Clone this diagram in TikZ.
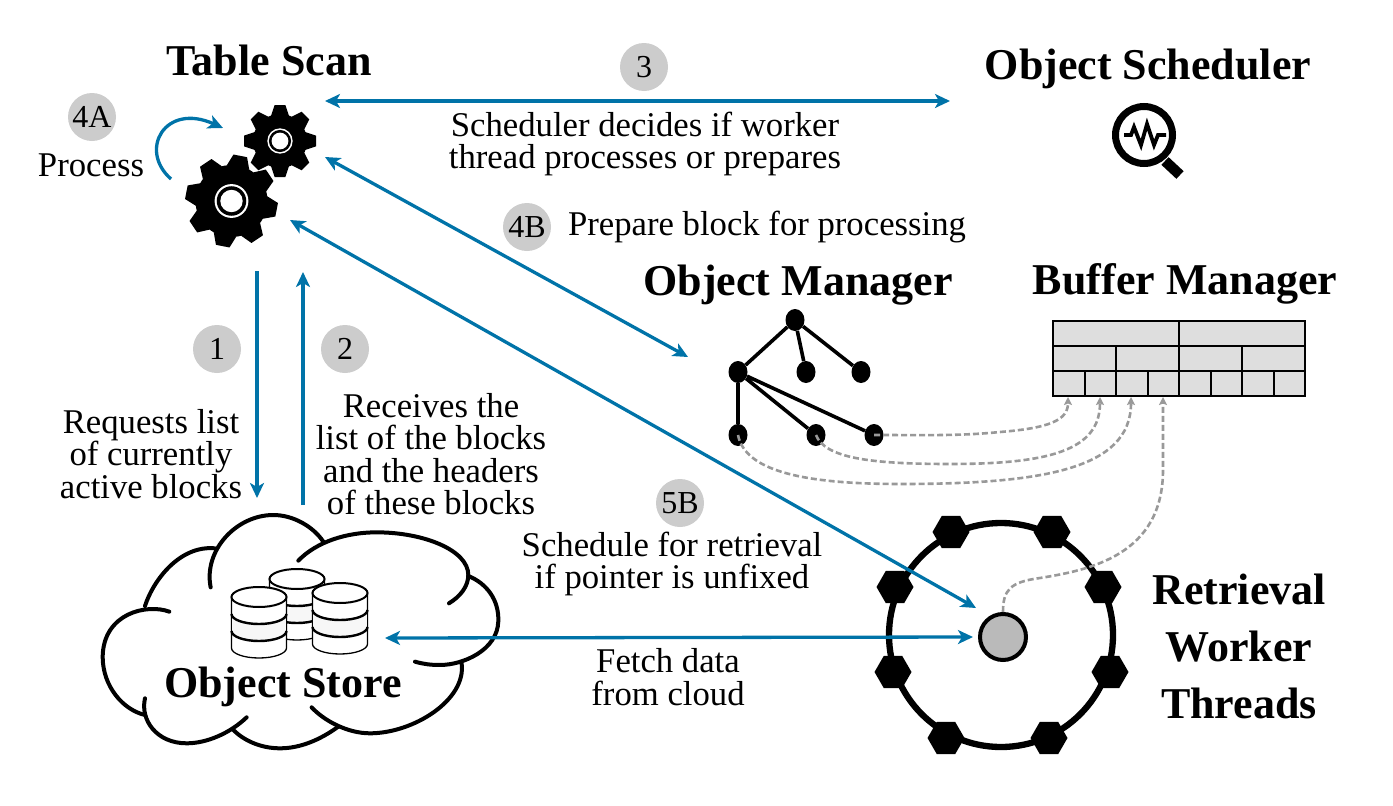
\documentclass[tikz,border=0pt]{standalone}
\usepackage{fontspec}
\setmainfont{Liberation Serif}
\usetikzlibrary{arrows.meta,shapes.geometric}
\definecolor{flowblue}{HTML}{0073A8}
\definecolor{dashgray}{HTML}{999999}
\definecolor{badgegray}{HTML}{CCCCCC}
\newcommand{\gearshape}[6]{%
  \node[coordinate] (#6) at (#1,#2) {};
  \begin{scope}[shift={(#1,#2)}]
    \foreach \a in {0,45,...,315}{
      \fill[black,rotate=#5+\a] (#4-2,-#3*0.25) -- (#3,-#3*0.15) -- (#3,#3*0.15) -- (#4-2,#3*0.25) -- cycle;
    }
    \fill[black] (0,0) circle[radius=#4 pt];
    \fill[white] (0,0) circle[radius=#4*0.47 pt];
    \fill[black] (0,0) circle[radius=#4*0.41 pt];
    \fill[white] (0,0) circle[radius=#4*0.31 pt];
  \end{scope}}
\newcommand{\dbcyl}[3]{%
  \begin{scope}[shift={(#1,#2)}]
    \node[coordinate] (#3) at (0,0) {};
    \filldraw[fill=white,draw=black,line width=1.3pt] (-27.5,0) -- (-27.5,51) arc[start angle=180,end angle=360,x radius=27.5pt,y radius=10pt] -- (27.5,0) -- cycle;
    \fill[fill=black!3] (-27.5,17) arc[start angle=180,end angle=360,x radius=27.5pt,y radius=10pt] -- (27.5,34) arc[start angle=0,end angle=-180,x radius=27.5pt,y radius=10pt] -- cycle;
    \draw[line width=1.3pt] (-27.5,0) -- (-27.5,51) (27.5,0) -- (27.5,51);
    \draw[line width=2.4pt] (-27.5,17) arc[start angle=180,end angle=360,x radius=27.5pt,y radius=10pt];
    \draw[line width=2.4pt] (-27.5,34) arc[start angle=180,end angle=360,x radius=27.5pt,y radius=10pt];
    \filldraw[fill=white,draw=black,line width=2pt] (0,0) ellipse[x radius=27.5pt,y radius=10pt];
  \end{scope}}
\tikzset{
  x=1pt,y=-1pt,
  flow/.style={draw=flowblue,line width=3.3pt,-{Stealth[length=15pt,width=14pt,inset=4pt]}},
  flowboth/.style={draw=flowblue,line width=3.3pt,{Stealth[length=15pt,width=14pt,inset=4pt]}-{Stealth[length=15pt,width=14pt,inset=4pt]}},
  dashlink/.style={draw=dashgray,line width=2.6pt,dash pattern=on 6pt off 3pt,-{Stealth[length=8pt,width=8pt,inset=1.5pt]}},
  badge/.style={circle,fill=badgegray,minimum size=48pt,inner sep=0pt,font=\fontsize{32}{32}\selectfont},
  body/.style={inner sep=0pt,align=center,font=\fontsize{34.7}{32.5}\selectfont},
  heading/.style={inner sep=0pt,align=center,font=\bfseries\fontsize{44}{57}\selectfont},
  treenode/.style={ellipse,fill=black,minimum width=19pt,minimum height=22pt,inner sep=0pt},
  treeedge/.style={line width=3.6pt,draw=black},
  hexa/.style={regular polygon,regular polygon sides=6,fill=black,minimum size=37pt,inner sep=0pt},
  cloudline/.style={line width=4pt,line cap=round,draw=black},
}
\begin{document}
\begin{tikzpicture}
\useasboundingbox (0,0) rectangle (1393,806);
% gears
\gearshape{231.5}{201}{46}{36}{-11}{biggear}
\gearshape{280}{141}{36}{27}{0}{smallgear}
% headings
\node[heading] (tscan) at (269,60) {Table Scan};
\node[heading] (osched) at (1148,69) {Object Scheduler};
\node[heading] (omgr) at (798,285) {Object Manager};
\node[heading] (bmgr) at (1185,284) {Buffer Manager};
\node[heading] (ostore) at (283,687) {Object Store};
\node[heading] (retr) at (1239,646) {Retrieval\\Worker\\Threads};
% badges
\node[badge] (b3) at (644,67) {3};
\node[badge] (b4a) at (92,117) {4A};
\node[badge] (b4b) at (527,227) {4B};
\node[badge] (b1) at (217,349) {1};
\node[badge] (b2) at (345,349) {2};
\node[badge] (b5b) at (680,503) {5B};
% labels
\node[body] (lproc) at (91,165) {Process};
\node[body] (lsched) at (645,144) {Scheduler decides if worker\\thread processes or prepares};
\node[body] (lprep) at (767,227) {Prepare block for processing};
\node[body] (lreq) at (151,454) {Requests list\\of currently\\active blocks};
\node[body] (lrec) at (431,454) {Receives the\\list of the blocks\\and the headers\\of these blocks};
\node[body] (lret) at (672,564) {Schedule for retrieval\\if pointer is unfixed};
\node[body] (lfetch) at (668,677) {Fetch data\\from cloud};
% magnifier
\node[coordinate] (lens) at (1144,135) {};
\draw[line width=7pt] (lens) circle[radius=28.5pt];
\draw[line width=10.5pt] (1165,161) -- (1180,175);
\draw[line width=3.8pt,line join=miter] (1124,135) -- (1131,135) -- (1134,127) -- (1141,145) -- (1147,124) -- (1154,145) -- (1158,135) -- (1166,135);
% cloud
\begin{scope}[shift={(90,500)},x=0.3333pt,y=-0.3333pt]
\draw[cloudline] (238,335) .. controls (170,310) and (40,340) .. (38,470) .. controls (38,560) and (100,630) .. (165,645);
\draw[cloudline] (165,318) .. controls (190,240) and (270,135) .. (375,145);
\draw[cloudline] (362,262) .. controls (340,150) and (440,45) .. (550,45) .. controls (610,45) and (670,80) .. (700,125);
\draw[cloudline] (625,182) .. controls (680,125) and (770,97) .. (860,97) .. controls (1000,97) and (1135,150) .. (1135,225) .. controls (1135,260) and (1110,290) .. (1077,310);
\draw[cloudline] (1135,228) .. controls (1190,250) and (1228,300) .. (1225,365) .. controls (1222,450) and (1120,495) .. (1050,495) .. controls (1020,495) and (1000,492) .. (975,485);
\draw[cloudline] (1115,490) .. controls (1130,600) and (970,700) .. (840,700) .. controls (770,700) and (700,660) .. (665,622);
\draw[cloudline] (745,680) .. controls (690,720) and (630,745) .. (570,745) .. controls (510,745) and (460,720) .. (430,690);
\draw[cloudline] (470,652) .. controls (420,700) and (350,730) .. (290,730) .. controls (200,730) and (150,660) .. (165,595);
\end{scope}
% databases
\dbcyl{297}{579}{dbback}
\dbcyl{259}{597}{dbleft}
\dbcyl{340}{593}{dbright}
% tree
\node[treenode] (t0) at (795,320) {};
\node[treenode] (t1) at (738,372) {};
\node[treenode] (t2) at (806,372) {};
\node[treenode] (t3) at (861,372) {};
\node[treenode] (t4) at (738,435) {};
\node[treenode] (t5) at (816,435) {};
\node[treenode] (t6) at (874,435) {};
\draw[treeedge] (t0)--(t1) (t0)--(t2) (t0)--(t3) (t1)--(t4) (t1)--(t5) (t1)--(t6);
% buffer grid
\node[coordinate] (g0) at (1053,321) {};
\node[coordinate] (g1) at (1305,396) {};
\fill[black!13] (g0) rectangle (g1);
\begin{scope}[line width=2pt]
\draw (g0) rectangle (g1);
\draw (1053,346) -- (1305,346) (1053,371) -- (1305,371);
\draw (1179,321) -- (1179,396);
\foreach \i in {2,6}{\draw (1053+31.5*\i,346) -- (1053+31.5*\i,371) ;}
\foreach \i in {1,2,3,5,6,7}{\draw (1053+31.5*\i,371) -- (1053+31.5*\i,396);}
\end{scope}
\node[coordinate] (c1) at (1068,397) {};
\node[coordinate] (c2) at (1100,397) {};
\node[coordinate] (c3) at (1131,397) {};
\node[coordinate] (c4) at (1163,397) {};
% ring
\node[circle,draw=black,line width=6.3pt,minimum size=224pt,inner sep=0pt] (ring) at (1001,635) {};
\node[hexa] (h1) at (951,532) {};
\node[hexa] (h2) at (1052,532) {};
\node[hexa] (h3) at (895,587) {};
\node[hexa] (h4) at (1103,587) {};
\node[hexa] (h5) at (893,672) {};
\node[hexa] (h6) at (1110,672) {};
\node[hexa] (h7) at (946,738) {};
\node[hexa] (h8) at (1049,738) {};
\node[circle,draw=black,line width=4pt,fill=black!27,minimum size=46pt,inner sep=0pt] (worker) at (1003,637) {};
% dashed links
\draw[dashlink] (t6.center) .. controls (930,435) and (960,436) .. (1000,432) .. controls (1050,428) and (1068,420) .. (c1);
\draw[dashlink] (t5.center) .. controls (825,458) and (870,464) .. (950,464) .. controls (1050,464) and (1100,450) .. (c2);
\draw[dashlink] (t4.center) .. controls (745,470) and (800,484) .. (900,484) .. controls (1040,484) and (1131,470) .. (c3);
\draw[dashlink] (worker.north) .. controls (1003,590) and (1010,582) .. (1040,578) .. controls (1090,570) and (1163,555) .. (1163,470) -- (c4);
% blue arrows
\coordinate (a3l) at (325,101);
\coordinate (a3r) at (950,101);
\coordinate (a4l) at (325,157);
\coordinate (a4r) at (688,357);
\coordinate (a5l) at (290,220);
\coordinate (a5r) at (976,608);
\coordinate (a1t) at (257,271);
\coordinate (a1b) at (257,498);
\coordinate (a2t) at (303,272);
\coordinate (a2b) at (303,505);
\coordinate (afl) at (385,638);
\coordinate (afr) at (973,637);
\coordinate (pa) at (171,179);
\coordinate (pb) at (223,128);
\draw[flowboth] (a3l) -- (a3r);
\draw[flowboth] (a4l) -- (a4r);
\draw[flowboth] (a5l) -- (a5r);
\draw[flow] (a1t) -- (a1b);
\draw[flow] (a2b) -- (a2t);
\draw[flowboth] (afl) -- (afr);
\draw[flow] (pa) .. controls (138,150) and (165,102) .. (pb);
\end{tikzpicture}
\end{document}
